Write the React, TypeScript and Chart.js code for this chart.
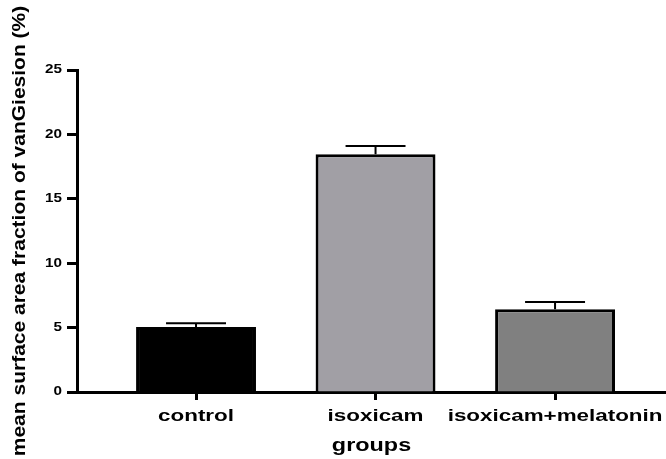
import React, { useEffect, useRef } from "react";
import { Chart, registerables } from "chart.js";

Chart.register(...registerables);

// ---- data ----
const categories = ["control", "isoxicam", "isoxicam+melatonin"];
const means = [5.05, 18.45, 6.42];
const sems = [0.28, 0.65, 0.57];
const barColors = ["#000000", "#a19fa5", "#808080"];
const yMin = 0;
const yMax = 25;
const yStep = 5;
const yTitle = "mean surface area fraction of vanGiesion (%)";
const xTitle = "groups";

// ---- style ----
const FAMILY = "'Liberation Sans', Arial, Helvetica, sans-serif";
const Y_TICK_SIZE = 12.5;
const X_TICK_SIZE = 16;
const X_TITLE_SIZE = 18;
const Y_TITLE_SIZE = 17.5;
// horizontal stretch of glyphs (the reference text is wide)
const STRETCH: Record<string, number> = {
  [String(Y_TICK_SIZE)]: 1.22,
  [String(X_TICK_SIZE)]: 1.4,
  [String(X_TITLE_SIZE)]: 1.3,
  [String(Y_TITLE_SIZE)]: 1.2,
};

const stretchText = {
  id: "stretchText",
  beforeDraw(chart: any) {
    const ctx = chart.ctx as any;
    if (ctx.__origFillText) return;
    const orig = ctx.fillText;
    ctx.__origFillText = orig;
    ctx.fillText = function (text: string, x: number, y: number) {
      const m = /([\d.]+)px/.exec(this.font || "");
      const sx = m ? STRETCH[String(parseFloat(m[1]))] || 1 : 1;
      this.save();
      this.translate(x, y);
      this.scale(sx, 1);
      orig.call(this, text, 0, 0);
      this.restore();
    };
  },
  afterDraw(chart: any) {
    const ctx = chart.ctx as any;
    if (ctx.__origFillText) {
      ctx.fillText = ctx.__origFillText;
      delete ctx.__origFillText;
    }
  },
};

const errorBars = {
  id: "errorBars",
  afterDatasetsDraw(chart: any) {
    const { ctx, scales } = chart;
    const x = scales.x;
    const y = scales.y;
    const meta = chart.getDatasetMeta(0);
    ctx.save();
    ctx.strokeStyle = "#000";
    ctx.lineWidth = 2;
    means.forEach((m, i) => {
      const bar = meta.data[i];
      if (!bar) return;
      const { width } = bar.getProps(["width"], true);
      const cx = x.getPixelForValue(i);
      const yb = y.getPixelForValue(m);
      const yt = y.getPixelForValue(m + sems[i]);
      const half = width / 4;
      ctx.beginPath();
      ctx.moveTo(cx, yb);
      ctx.lineTo(cx, yt);
      ctx.moveTo(cx - half, yt);
      ctx.lineTo(cx + half, yt);
      ctx.stroke();
    });
    ctx.restore();
  },
};

export default function App() {
  const ref = useRef<HTMLCanvasElement | null>(null);

  useEffect(() => {
    if (!ref.current) return;
    const chart = new Chart(ref.current, {
      type: "bar",
      data: {
        datasets: [
          {
            data: categories.map((c, i) => ({ x: i, y: means[i] })) as any,
            backgroundColor: barColors,
            borderColor: "#000000",
            borderWidth: 3,
            barPercentage: 0.668,
            categoryPercentage: 1,
          },
        ],
      },
      options: {
        responsive: false,
        animation: false,
        devicePixelRatio: 1,
        layout: { padding: { top: 70, right: 0, left: 0, bottom: 0 } },
        plugins: {
          legend: { display: false },
          tooltip: { enabled: false },
        },
        scales: {
          x: {
            type: "linear",
            offset: false,
            z: 1,
            min: -0.663,
            max: 2.618,
            afterBuildTicks: (s: any) => {
              s.ticks = categories.map((_, i) => ({ value: i }));
            },
            afterFit: (s: any) => {
              s.height = 67;
            },
            ticks: {
              callback: (v: any) => categories[v as number] ?? "",
              font: { family: FAMILY, size: X_TICK_SIZE, weight: "bold" },
              color: "#000",
              padding: 7,
              autoSkip: false,
              maxRotation: 0,
              minRotation: 0,
            },
            grid: {
              display: true,
              offset: false,
              drawOnChartArea: false,
              drawTicks: true,
              tickLength: 8,
              tickWidth: 3,
              tickColor: "#000",
            },
            border: { display: true, width: 3, color: "#000" },
            title: {
              display: true,
              text: xTitle,
              color: "#000",
              font: { family: FAMILY, size: X_TITLE_SIZE, weight: "bold" },
              padding: { top: 0, bottom: 2 },
            },
          },
          y: {
            type: "linear",
            min: yMin,
            max: yMax,
            afterFit: (s: any) => {
              s.width = 77;
            },
            ticks: {
              stepSize: yStep,
              font: { family: FAMILY, size: Y_TICK_SIZE, weight: "bold" },
              color: "#000",
              padding: 5,
            },
            grid: {
              display: true,
              drawOnChartArea: false,
              drawTicks: true,
              tickLength: 10,
              tickWidth: 3,
              tickColor: "#000",
            },
            border: { display: true, width: 3, color: "#000" },
            title: {
              display: true,
              text: yTitle,
              color: "#000",
              font: { family: FAMILY, size: Y_TITLE_SIZE, weight: "bold" },
              padding: { top: 10, bottom: 0 },
            },
          },
        },
      },
      plugins: [stretchText, errorBars],
    } as any);
    return () => chart.destroy();
  }, []);

  return (
    <div style={{ position: "absolute", left: 0, top: 0, width: 666, height: 459 }}>
      <canvas ref={ref} width={666} height={459} style={{ display: "block" }} />
    </div>
  );
}
